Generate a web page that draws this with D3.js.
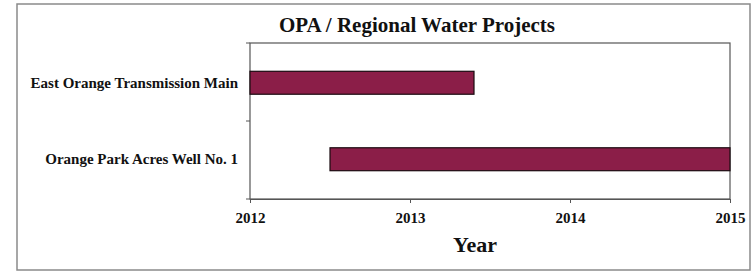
<!DOCTYPE html>
<html>
<head>
<meta charset="utf-8">
<script src="https://cdn.jsdelivr.net/npm/d3@7"></script>
<style>
  body { margin: 0; background: #fff; }
  text { font-family: "Liberation Serif", "Times New Roman", serif; font-weight: bold; fill: #111; }
</style>
</head>
<body>
<div id="chart"></div>
<script>
const FRAME_WIDTH = 753;
const FRAME_HEIGHT = 272;
const MARGINS = {left: 250, right: 23, top: 43, bottom: 73};

const VIS_WIDTH = FRAME_WIDTH - MARGINS.left - MARGINS.right;
const VIS_HEIGHT = FRAME_HEIGHT - MARGINS.top - MARGINS.bottom;

// data
const projects = ["East Orange Transmission Main", "Orange Park Acres Well No. 1"];
const startYears = [2012, 2012.5];
const endYears = [2013.4, 2015];
const yearTicks = [2012, 2013, 2014, 2015];

const data = projects.map((p, i) => ({name: p, start: startYears[i], end: endYears[i]}));

const svg = d3.select("#chart")
  .append("svg")
    .attr("width", FRAME_WIDTH)
    .attr("height", FRAME_HEIGHT);

// outer frame
svg.append("rect")
    .attr("x", 17).attr("y", 4)
    .attr("width", 733).attr("height", 266)
    .attr("fill", "none")
    .attr("stroke", "#8a8a8a")
    .attr("stroke-width", 1.5);

const xScale = d3.scaleLinear()
    .domain([2012, 2015])
    .range([MARGINS.left, MARGINS.left + VIS_WIDTH]);

const yScale = d3.scaleBand()
    .domain(projects)
    .range([MARGINS.top, MARGINS.top + VIS_HEIGHT])
    .paddingInner(0.7)
    .paddingOuter(0.37);

// plot area box
svg.append("rect")
    .attr("x", MARGINS.left).attr("y", MARGINS.top)
    .attr("width", VIS_WIDTH).attr("height", VIS_HEIGHT)
    .attr("fill", "none")
    .attr("stroke", "#555")
    .attr("stroke-width", 1.2);

// bars
svg.selectAll(".bar")
  .data(data)
  .enter()
  .append("rect")
    .attr("class", "bar")
    .attr("x", (d) => xScale(d.start))
    .attr("y", (d) => yScale(d.name))
    .attr("width", (d) => xScale(d.end) - xScale(d.start))
    .attr("height", yScale.bandwidth())
    .attr("fill", "#8b1e48")
    .attr("stroke", "#1a0a10")
    .attr("stroke-width", 1.2);

// x axis
const xAxis = svg.append("g")
    .attr("transform", `translate(0, ${MARGINS.top + VIS_HEIGHT})`)
    .call(d3.axisBottom(xScale).tickValues(yearTicks).tickFormat(d3.format("d")).tickSize(4).tickPadding(9));
xAxis.select(".domain").attr("stroke", "#555");
xAxis.selectAll(".tick line").attr("stroke", "#555");
xAxis.selectAll("text")
    .attr("font-size", 15)
    .attr("fill", "#111")
    .style("font-family", "'Liberation Serif', serif")
    .style("font-weight", "bold");

// y axis: separator ticks between categories, labels at band centres
const sepTicks = [MARGINS.top, MARGINS.top + VIS_HEIGHT / 2, MARGINS.top + VIS_HEIGHT];
svg.selectAll(".ytick")
  .data(sepTicks)
  .enter()
  .append("line")
    .attr("x1", MARGINS.left - 4).attr("x2", MARGINS.left)
    .attr("y1", (d) => d).attr("y2", (d) => d)
    .attr("stroke", "#555");

svg.selectAll(".ylabel")
  .data(projects)
  .enter()
  .append("text")
    .attr("x", MARGINS.left - 12)
    .attr("y", (d) => yScale(d) + yScale.bandwidth() / 2)
    .attr("dy", "0.35em")
    .attr("text-anchor", "end")
    .attr("font-size", 15)
    .text((d) => d);

// title
svg.append("text")
    .attr("x", 417)
    .attr("y", 32)
    .attr("text-anchor", "middle")
    .attr("font-size", 21)
    .text("OPA / Regional Water Projects");

// x axis title
svg.append("text")
    .attr("x", 475)
    .attr("y", 252)
    .attr("text-anchor", "middle")
    .attr("font-size", 22)
    .text("Year");
</script>
</body>
</html>
